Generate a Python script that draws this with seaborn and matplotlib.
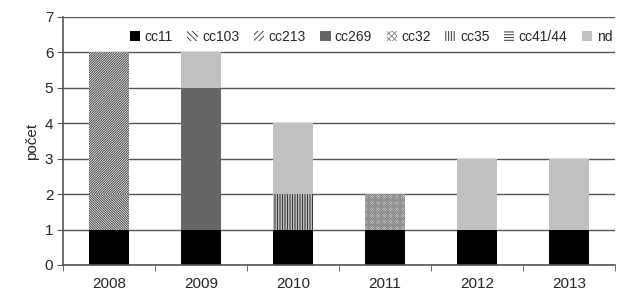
import matplotlib
matplotlib.use("Agg")
import matplotlib.pyplot as plt
from matplotlib.patches import Patch
import seaborn as sns
import pandas as pd
import numpy as np

# --- Datos ---
roky = ["2008", "2009", "2010", "2011", "2012", "2013"]
cc11 = [1, 1, 1, 1, 1, 1]
cc103 = [1, 0, 0, 0, 0, 0]
cc213 = [4, 0, 0, 0, 0, 0]
cc269 = [0, 4, 0, 0, 0, 0]
cc32 = [0, 0, 0, 1, 0, 0]
cc35 = [0, 0, 1, 0, 0, 0]
cc41_44 = [0, 0, 0, 0, 0, 0]
nd = [0, 1, 2, 0, 2, 2]

serie = ["cc11", "cc103", "cc213", "cc269", "cc32", "cc35", "cc41/44", "nd"]
hodnoty = [cc11, cc103, cc213, cc269, cc32, cc35, cc41_44, nd]
barvy = ["black", "white", "white", "#666666", "white", "white", "white", "#c0c0c0"]
srafy = ["", "\\" * 14, "/" * 14, "", "x" * 14, "|" * 10, "-" * 10, ""]
barvy_srafu = ["black", "#444444", "#444444", "#666666", "#909090", "#333333", "#333333", "#c0c0c0"]

sns.set_style("white")
plt.rcParams["font.family"] = ["Liberation Sans", "DejaVu Sans"]
plt.rcParams["hatch.linewidth"] = 0.7

fig = plt.figure(figsize=(6.27, 2.93), dpi=100)
ax = fig.add_axes([0.1005, 0.0956, 0.8805, 0.8464])

df = pd.DataFrame({"rok": roky})
spodek = np.zeros(len(roky))
for nazev, vals, barva, sraf, bs in zip(serie, hodnoty, barvy, srafy, barvy_srafu):
    df["v"] = vals
    n_before = len(ax.patches)
    sns.barplot(data=df, x="rok", y="v", color=barva, bottom=spodek,
                width=0.43, ax=ax, linewidth=0, saturation=1)
    for p in ax.patches[n_before:]:
        p.set_facecolor(barva)
        p.set_hatch(sraf)
        p.set_edgecolor(bs)
        p.set_linewidth(0)
    spodek = spodek + np.array(vals)

ax.set_ylim(0, 7)
ax.set_xlim(-0.5, 5.5)
ax.set_yticks(range(0, 8))
ax.yaxis.grid(True, color="#555555", linewidth=1)
ax.set_axisbelow(True)
ax.set_xlabel("")
ax.set_ylabel("počet", fontsize=11)
ax.tick_params(axis="both", labelsize=11)
ax.tick_params(axis="y", direction="out", length=4, left=True, color="#555555", pad=3)
ax.tick_params(axis="x", which="major", length=0, pad=9)
ax.set_xticks(np.arange(-0.5, 6, 1), minor=True)
ax.tick_params(axis="x", which="minor", direction="out", length=4, bottom=True, color="#555555")

for s in ["top", "right"]:
    ax.spines[s].set_visible(False)
ax.spines["left"].set_color("#555555")
ax.spines["bottom"].set_color("#555555")
ax.spines["left"].set_linewidth(1.2)
ax.spines["bottom"].set_linewidth(1.2)

handles = [Patch(facecolor=b, hatch=h[:6], edgecolor=bs, linewidth=0)
           for b, h, bs in zip(barvy, srafy, barvy_srafu)]
leg = ax.legend(handles, serie, ncol=8, loc="center", bbox_to_anchor=(0.558, 0.919),
                frameon=True, fontsize=10, handlelength=0.75, handleheight=0.75,
                handletextpad=0.3, columnspacing=1.05, borderaxespad=0.0,
                borderpad=0.2)
leg.get_frame().set_facecolor("white")
leg.get_frame().set_edgecolor("white")

fig.savefig("out.png", dpi=100)
